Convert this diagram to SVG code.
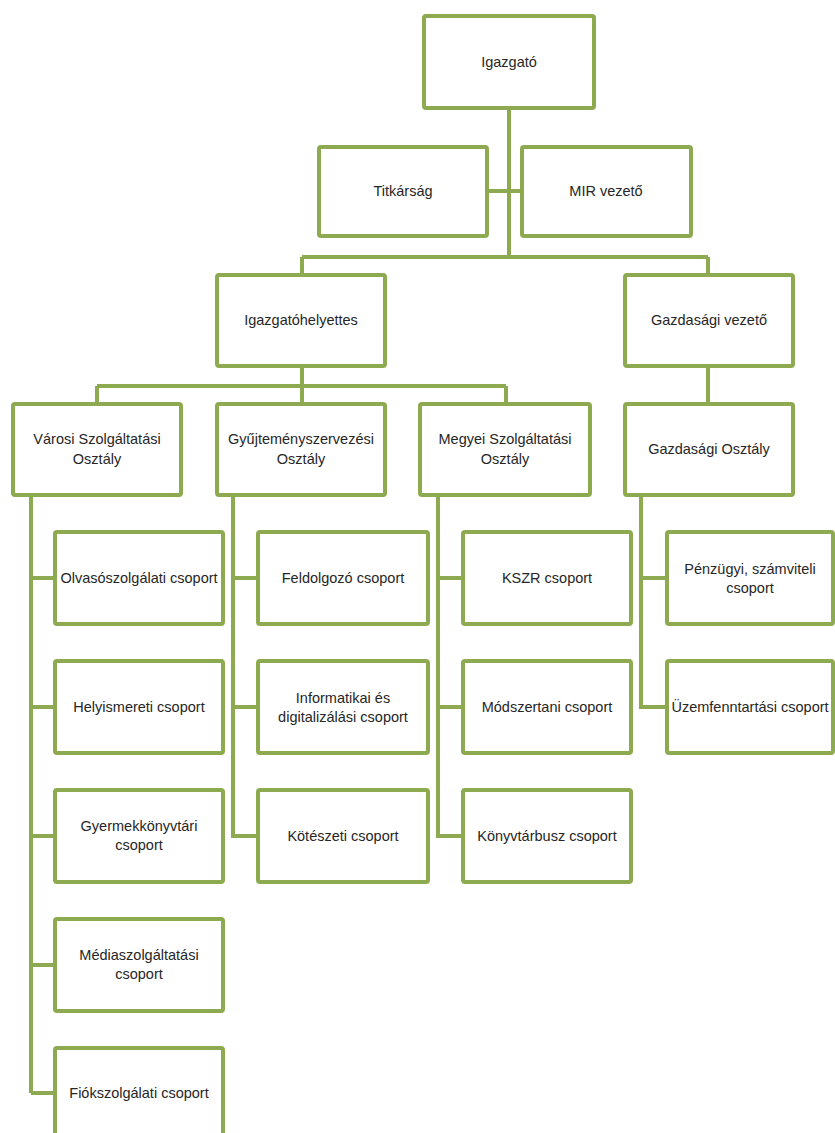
<svg xmlns="http://www.w3.org/2000/svg" width="835" height="1133" viewBox="0 0 835 1133">
<style>
.b{fill:#fff;stroke:#8EAA50;stroke-width:4}
.c{fill:none;stroke:#8EAA50;stroke-width:4;stroke-linejoin:miter}
text{font-family:"Liberation Sans",Arial,sans-serif;font-size:14.5px;fill:#262626;text-anchor:middle;dominant-baseline:central}
</style>
<rect width="835" height="1133" fill="#fff"/>
<g id="connectors">
<path class="c" d="M509 108V257M487 191H520M302 257H708M302 257V275M708 257V275"/>
<path class="c" d="M302 366V386M97 386H506M97 386V402M302 386V402M506 386V402M708 366V402"/>
<path class="c" d="M31 497V1093M31 578H55M31 707H55M31 836H55M31 965H55M31 1093H55"/>
<path class="c" d="M233 497V836H258M233 578H258M233 707H258"/>
<path class="c" d="M438 497V836H463M438 578H463M438 707H463"/>
<path class="c" d="M641 497V707H667M641 578H667"/>
</g>
<g id="n-igazgato"><rect class="b" x="424" y="16" width="170" height="92" rx="2"/><text x="509" y="62">Igazgató</text></g>
<g id="n-titkarsag"><rect class="b" x="319" y="147" width="168" height="89" rx="2"/><text x="403" y="191">Titkárság</text></g>
<g id="n-mir"><rect class="b" x="522" y="147" width="169" height="89" rx="2"/><text x="606" y="191">MIR vezető</text></g>
<g id="n-igh"><rect class="b" x="217" y="275" width="168" height="91" rx="2"/><text x="301" y="320">Igazgatóhelyettes</text></g>
<g id="n-gv"><rect class="b" x="625" y="275" width="168" height="91" rx="2"/><text x="709" y="320">Gazdasági vezető</text></g>
<g id="n-varosi"><rect class="b" x="13" y="404" width="168" height="91" rx="2"/><text x="97" y="439">Városi Szolgáltatási</text><text x="97" y="459">Osztály</text></g>
<g id="n-gyujt"><rect class="b" x="217" y="404" width="168" height="91" rx="2"/><text x="301" y="439">Gyűjteményszervezési</text><text x="301" y="459">Osztály</text></g>
<g id="n-megyei"><rect class="b" x="420" y="404" width="170" height="91" rx="2"/><text x="505" y="439">Megyei Szolgáltatási</text><text x="505" y="459">Osztály</text></g>
<g id="n-gazdo"><rect class="b" x="625" y="404" width="168" height="91" rx="2"/><text x="709" y="449">Gazdasági Osztály</text></g>
<g id="n-olvaso"><rect class="b" x="55" y="532" width="168" height="92" rx="2"/><text x="139" y="578">Olvasószolgálati csoport</text></g>
<g id="n-helyism"><rect class="b" x="55" y="661" width="168" height="92" rx="2"/><text x="139" y="707">Helyismereti  csoport</text></g>
<g id="n-gyermek"><rect class="b" x="55" y="790" width="168" height="92" rx="2"/><text x="139" y="826">Gyermekkönyvtári</text><text x="139" y="845">csoport</text></g>
<g id="n-media"><rect class="b" x="55" y="919" width="168" height="92" rx="2"/><text x="139" y="955">Médiaszolgáltatási</text><text x="139" y="974">csoport</text></g>
<g id="n-fiok"><rect class="b" x="55" y="1048" width="168" height="92" rx="2"/><text x="139" y="1093">Fiókszolgálati csoport</text></g>
<g id="n-feldolg"><rect class="b" x="258" y="532" width="170" height="92" rx="2"/><text x="343" y="578">Feldolgozó csoport</text></g>
<g id="n-inform"><rect class="b" x="258" y="661" width="170" height="92" rx="2"/><text x="343" y="698">Informatikai és</text><text x="343" y="717">digitalizálási csoport</text></g>
<g id="n-kotesz"><rect class="b" x="258" y="790" width="170" height="92" rx="2"/><text x="343" y="836">Kötészeti csoport</text></g>
<g id="n-kszr"><rect class="b" x="463" y="532" width="168" height="92" rx="2"/><text x="547" y="578">KSZR csoport</text></g>
<g id="n-modsz"><rect class="b" x="463" y="661" width="168" height="92" rx="2"/><text x="547" y="707">Módszertani csoport</text></g>
<g id="n-konyvb"><rect class="b" x="463" y="790" width="168" height="92" rx="2"/><text x="547" y="836">Könyvtárbusz csoport</text></g>
<g id="n-penz"><rect class="b" x="667" y="532" width="166" height="92" rx="2"/><text x="750" y="569">Pénzügyi, számviteli</text><text x="750" y="588">csoport</text></g>
<g id="n-uzem"><rect class="b" x="667" y="661" width="166" height="92" rx="2"/><text x="750" y="707">Üzemfenntartási csoport</text></g>
</svg>
